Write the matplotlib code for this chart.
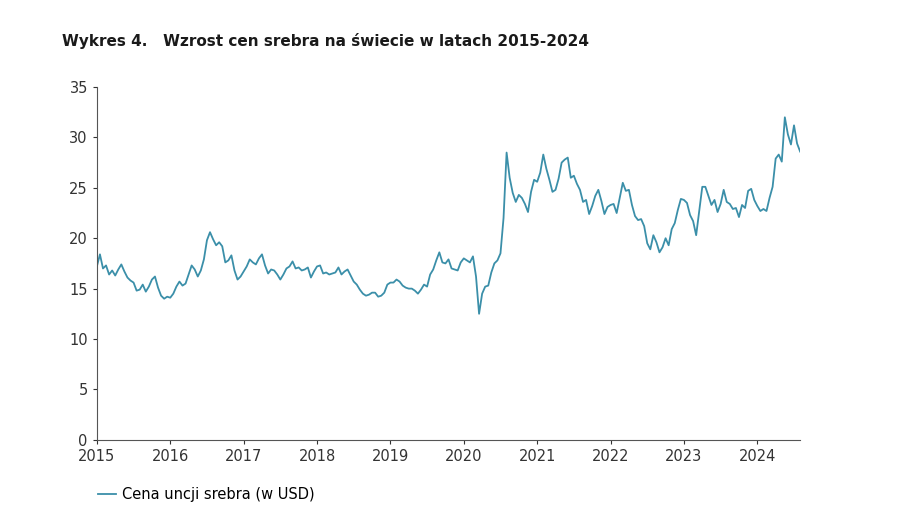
import numpy as np
import matplotlib.pyplot as plt

# semi-monthly silver price estimates (USD/oz), Jan 2015 - Jul 2024
prices = [
    17.2,18.4, 17.0,17.3, 16.4,16.8, 16.3,16.9, 17.4,16.7, 16.1,15.8, 15.6,14.8, 14.9,15.4, 14.7,15.2, 15.9,16.2, 15.1,14.3, 14.0,14.2,
    14.1,14.5, 15.2,15.7, 15.3,15.5, 16.4,17.3, 16.9,16.2, 16.8,17.9, 19.8,20.6, 19.9,19.3, 19.6,19.2, 17.6,17.8, 18.3,16.8, 15.9,16.2,
    16.7,17.2, 17.9,17.6, 17.4,18.0, 18.4,17.3, 16.5,16.9, 16.8,16.4, 15.9,16.4, 17.0,17.2, 17.7,17.0, 17.1,16.8, 16.9,17.1, 16.1,16.7,
    17.2,17.3, 16.5,16.6, 16.4,16.5, 16.6,17.1, 16.4,16.7, 16.9,16.3, 15.7,15.4, 14.9,14.5, 14.3,14.4, 14.6,14.6, 14.2,14.3, 14.6,15.4,
    15.6,15.6, 15.9,15.7, 15.3,15.1, 15.0,15.0, 14.8,14.5, 14.9,15.4, 15.2,16.4, 16.9,17.8, 18.6,17.6, 17.5,17.9, 17.0,16.9, 16.8,17.6,
    18.0,17.8, 17.6,18.2, 16.2,12.5, 14.5,15.2, 15.3,16.6, 17.5,17.8, 18.5,22.0, 28.5,26.0, 24.5,23.6, 24.3,24.0, 23.4,22.6, 24.6,25.8,
    25.6,26.5, 28.3,26.9, 25.8,24.6, 24.8,25.9, 27.5,27.8, 28.0,26.0, 26.2,25.4, 24.8,23.6, 23.8,22.4, 23.2,24.2, 24.8,23.7, 22.4,23.1,
    23.3,23.4, 22.5,24.0, 25.5,24.7, 24.8,23.3, 22.2,21.8, 21.9,21.2, 19.5,18.9, 20.3,19.6, 18.6,19.1, 20.0,19.3, 20.9,21.5, 22.8,23.9,
    23.8,23.5, 22.3,21.7, 20.3,22.7, 25.1,25.1, 24.2,23.3, 23.8,22.6, 23.4,24.8, 23.6,23.4, 22.9,23.0, 22.1,23.3, 23.0,24.7, 24.9,23.8,
    23.2,22.7, 22.9,22.7, 24.0,25.1, 27.9,28.3, 27.6,32.0, 30.3,29.3, 31.2,29.4, 28.6,
]
years = list(range(2015, 2025))
yticks = list(range(0, 36, 5))

t = 2015 + np.arange(len(prices)) / 24

fig = plt.figure(figsize=(8.97, 5.15), dpi=100)
ax = fig.add_axes([0.108, 0.146, 0.784, 0.685])
ax.plot(t, prices, color="#3b8fa9", linewidth=1.3, label="Cena uncji srebra (w USD)")
ax.set_xlim(2015, t[-1])
ax.set_ylim(0, 35)
ax.set_xticks(years)
ax.set_yticks(yticks)
ax.tick_params(labelsize=10.5, colors="#333333", length=3)
for s in ["top", "right"]:
    ax.spines[s].set_visible(False)
ax.spines["left"].set_color("#555555")
ax.spines["bottom"].set_color("#555555")

fig.text(0.069, 0.91, "Wykres 4.   Wzrost cen srebra na świecie w latach 2015-2024",
         fontsize=11, fontweight="bold", color="#1a1a1a")
fig.legend(loc="lower left", bbox_to_anchor=(0.095, 0.0), frameon=False, fontsize=10.5,
           handlelength=1.2, handletextpad=0.4)

fig.savefig("out.png")
